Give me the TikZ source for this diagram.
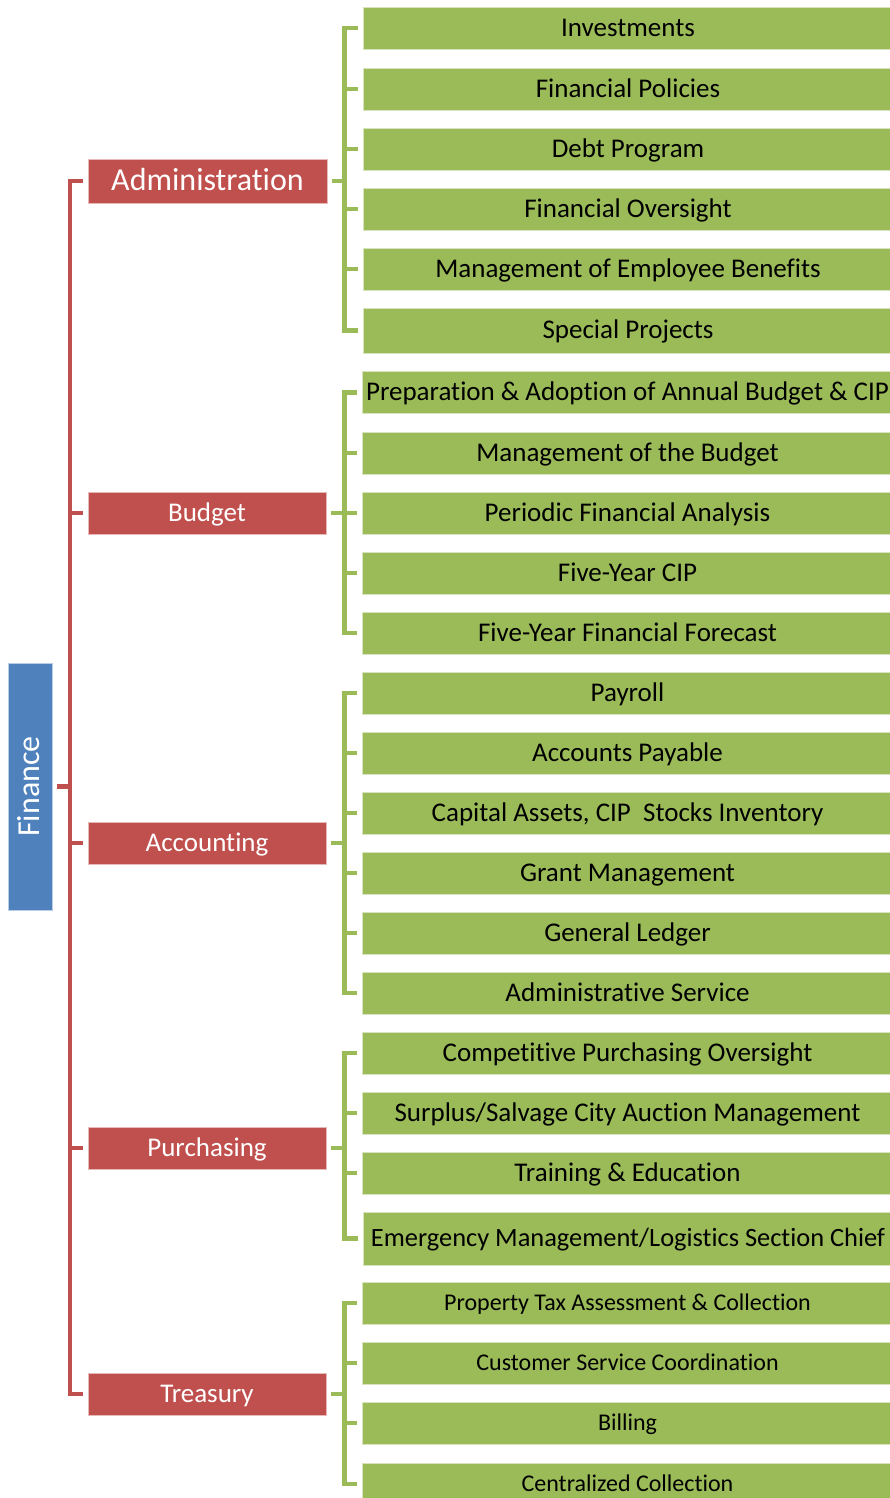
\documentclass[tikz,border=0pt]{standalone}
\usepackage{fontspec}
\setmainfont[Ligatures=NoCommon]{Carlito}
\definecolor{leafgreen}{HTML}{9BBB59}
\definecolor{leafedge}{HTML}{D7E4BD}
\definecolor{headred}{HTML}{C0504D}
\definecolor{headedge}{HTML}{E6B9B8}
\definecolor{rootblue}{HTML}{4F81BD}
\definecolor{rootedge}{HTML}{B9CDE5}
\newcommand\leaffont{\fontsize{27}{32}\selectfont}
\newcommand\wideleaffont{\fontsize{26.4}{32}\selectfont}
\newcommand\smallleaffont{\fontsize{24}{28}\selectfont}
\newcommand\headfont{\fontsize{27}{32}\selectfont}
\newcommand\bigheadfont{\fontsize{32}{38}\selectfont}
\tikzset{
  leaf/.style={rectangle, fill=leafgreen, draw=leafedge, line width=0.8pt,
    minimum width=530, minimum height=42, inner sep=0pt, text=black,
    font=\leaffont, text height=17pt, text depth=0.6pt},
  smallleaf/.style={leaf, font=\smallleaffont, text height=15pt, text depth=0.5pt},
  head/.style={rectangle, fill=headred, draw=headedge, line width=0.8pt,
    minimum width=238, minimum height=42, inner sep=0pt, text=white,
    font=\headfont, text height=17pt, text depth=0.6pt},
  bighead/.style={head, font=\bigheadfont, text height=20pt, text depth=0.4pt},
  root/.style={rectangle, fill=rootblue, draw=rootedge, line width=0.8pt,
    minimum width=247, minimum height=44, inner sep=0pt, text=white,
    font=\bigheadfont, rotate=90, text height=20pt, text depth=0.4pt},
  redline/.style={draw=headred, line width=4.5pt, line join=miter},
  greenline/.style={draw=leafgreen, line width=4.5pt, line join=miter},
}
\begin{document}
\begin{tikzpicture}[x=1pt, y=-1pt]
\useasboundingbox (0,0) rectangle (890,1498);
\clip (0,0) rectangle (890,1498);

% spine positions
\coordinate (rs) at (70,0);
\coordinate (gs) at (344.5,0);

% root
\node[root] (finance) at (30,786.5) {Finance};

% second level
\node[bighead, minimum width=239, minimum height=44] (admin) at (207.5,181) {Administration};
\node[head] (budget) at (207,513) {Budget};
\node[head] (accounting) at (207,843) {Accounting};
\node[head] (purchasing) at (207,1148) {Purchasing};
\node[head] (treasury) at (207,1394) {Treasury};

% Administration
\node[leaf] (a1) at (628,28) {Investments};
\node[leaf] (a2) at (628,89) {Financial Policies};
\node[leaf] (a3) at (628,149) {Debt Program};
\node[leaf] (a4) at (628,209) {Financial Oversight};
\node[leaf] (a5) at (628,269) {Management of Employee Benefits};
\node[leaf, minimum height=45] (a6) at (628,330.5) {Special Projects};

% Budget
\node[leaf] (b1) at (627.5,392.5) {Preparation \& Adoption of Annual Budget \& CIP};
\node[leaf] (b2) at (627.5,453) {Management of the Budget};
\node[leaf] (b3) at (627.5,513) {Periodic Financial Analysis};
\node[leaf] (b4) at (627.5,573) {Five-Year CIP};
\node[leaf] (b5) at (627.5,633) {Five-Year Financial Forecast};

% Accounting
\node[leaf] (c1) at (627.5,693) {Payroll};
\node[leaf] (c2) at (627.5,753) {Accounts Payable};
\node[leaf] (c3) at (627.5,813) {Capital Assets, CIP\ \ Stocks Inventory};
\node[leaf] (c4) at (627.5,873) {Grant Management};
\node[leaf] (c5) at (627.5,933) {General Ledger};
\node[leaf] (c6) at (627.5,993) {Administrative Service};

% Purchasing
\node[leaf] (p1) at (627.5,1053) {Competitive Purchasing Oversight};
\node[leaf] (p2) at (627.5,1113) {Surplus/Salvage City Auction Management};
\node[leaf] (p3) at (627.5,1173) {Training \& Education};
\node[leaf, anchor=west, minimum width=0pt, minimum height=53, inner xsep=8pt,
  font=\wideleaffont] (p4) at (362.5,1238.5) {Emergency Management/Logistics Section Chief};

% Treasury
\node[smallleaf] (t1) at (627.5,1303) {Property Tax Assessment \& Collection};
\node[smallleaf] (t2) at (627.5,1363) {Customer Service Coordination};
\node[smallleaf] (t3) at (627.5,1423) {Billing};
\node[smallleaf] (t4) at (627.5,1484) {Centralized Collection};

% red bracket joining the root to the second level
\draw[redline] ([xshift=-5]admin.west) -- (admin.west -| rs) -- (treasury.west -| rs) -- ([xshift=-5]treasury.west);
\foreach \n in {budget,accounting,purchasing}
  \draw[redline] (\n.west -| rs) -- ([xshift=-5]\n.west);
\draw[redline] ([xshift=5]finance.south) -- (finance.south -| rs);

% green brackets joining each section to its tasks
\newcommand\bracketgroup[3]{%
  \draw[greenline] ([xshift=-5]#2.west) -- (#2.west -| gs) -- (#3.west -| gs) -- ([xshift=-5]#3.west);
  \draw[greenline] ([xshift=5]#1.east) -- (#1.east -| gs);
}
\bracketgroup{admin}{a1}{a6}
\bracketgroup{budget}{b1}{b5}
\bracketgroup{accounting}{c1}{c6}
\bracketgroup{purchasing}{p1}{p4}
\bracketgroup{treasury}{t1}{t4}
\foreach \n in {a2,a3,a4,a5,b2,b3,b4,c2,c3,c4,c5,p2,p3,t2,t3}
  \draw[greenline] (\n.west -| gs) -- ([xshift=-5]\n.west);
\end{tikzpicture}
\end{document}
